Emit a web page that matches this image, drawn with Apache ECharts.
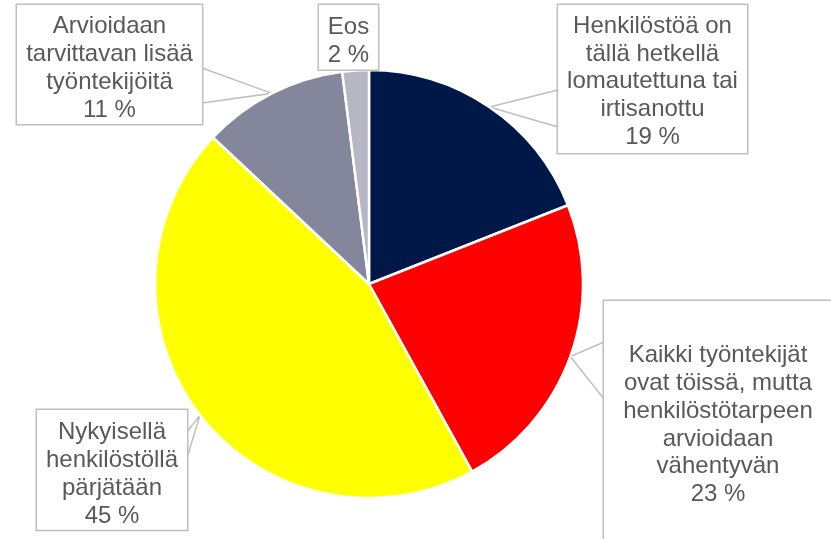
<!DOCTYPE html>
<html>
<head>
<meta charset="utf-8">
<script src="https://cdn.jsdelivr.net/npm/echarts@6/dist/echarts.min.js"></script>
<style>
  html, body { margin: 0; padding: 0; background: #fff; }
  #chart { width: 831px; height: 539px; }
</style>
</head>
<body>
<div id="chart"></div>
<script>
// vastausten nimet ja osuudet (%)
var categories = [
  'Henkilöstöä on\ntällä hetkellä\nlomautettuna tai\nirtisanottu',
  'Kaikki työntekijät\novat töissä, mutta\nhenkilöstötarpeen\narvioidaan\nvähentyvän',
  'Nykyisellä\nhenkilöstöllä\npärjätään',
  'Arvioidaan\ntarvittavan lisää\ntyöntekijöitä',
  'Eos'
];
var values = [19, 23, 45, 11, 2];
var colors = ['#001848', '#ff0000', '#ffff00', '#84879b', '#b7b7c4'];

// selitelaatikot: vasen yläkulma, koko, yläreunan täyte ja nuolen kanta
var boxes = [
  { left: 558, top: 5, w: 189, h: 148, pt: 7.5, base: [[558, 90], [558, 127]] },
  { left: 604, top: 301, w: 228, h: 250, pt: 41, base: [[604, 342], [604, 399]] },
  { left: 37, top: 410, w: 150, h: 118, pt: 9, base: [[187, 432], [187, 458]] },
  { left: 17, top: 5, w: 185, h: 119, pt: 8, base: [[202, 68], [202, 103]] },
  { left: 319, top: 5, w: 59, h: 63, pt: 9, base: null }
];
var lineH = 27.7;

var chart = echarts.init(document.getElementById('chart'));

var data = categories.map(function (name, i) {
  var b = boxes[i];
  var lines = name.split('\n').length + 1;
  var pb = Math.max(0, b.h - b.pt - lines * lineH);
  return {
    name: name,
    value: values[i],
    itemStyle: { color: colors[i] },
    label: {
      width: b.w - 4,
      padding: [b.pt, 2, pb, 2]
    },
    labelLine: { show: !!b.base }
  };
});

var option = {
  animation: false,
  series: [{
    type: 'pie',
    center: [369, 284],
    radius: 214,
    startAngle: 90,
    clockwise: true,
    itemStyle: {
      borderColor: '#ffffff',
      borderWidth: 2.5
    },
    label: {
      show: true,
      formatter: function (p) { return p.name + '\n' + p.value + ' %'; },
      fontFamily: 'Liberation Sans, Arial, sans-serif',
      fontSize: 24,
      lineHeight: lineH,
      color: '#595959',
      align: 'center',
      backgroundColor: '#ffffff',
      borderColor: '#bfbfbf',
      borderWidth: 1.5
    },
    labelLine: {
      show: true,
      length: 10,
      length2: 10,
      lineStyle: { color: '#bfbfbf', width: 1.5 }
    },
    labelLayout: function (p) {
      var b = boxes[p.dataIndex];
      var res = {
        x: b.left + b.w / 2,
        y: b.top,
        align: 'center',
        verticalAlign: 'top'
      };
      // nuoli laatikon reunalta sektorin kaaren keskelle
      if (b.base && p.labelLinePoints && p.labelLinePoints.length) {
        var tip = p.labelLinePoints[0];
        res.labelLinePoints = [b.base[0], tip, b.base[1]];
      }
      return res;
    },
    data: data
  }]
};

chart.setOption(option);
</script>
</body>
</html>
